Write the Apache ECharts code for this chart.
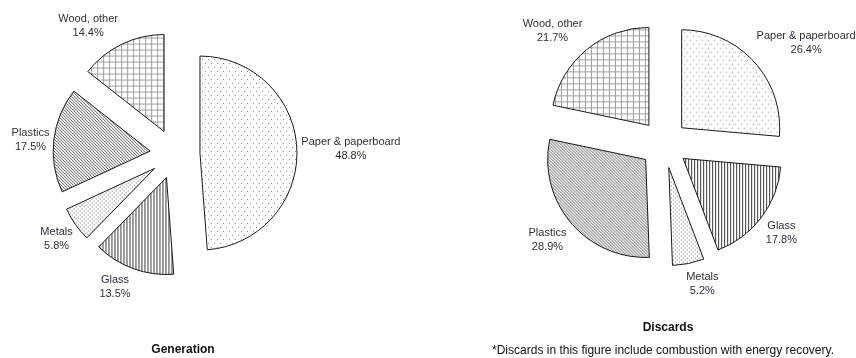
<!DOCTYPE html>
<html>
<head>
<meta charset="utf-8">
<script src="https://cdn.jsdelivr.net/npm/echarts@6/dist/echarts.min.js"></script>
<style>
  html, body { margin: 0; padding: 0; background: #fff; }
  #chart { width: 856px; height: 358px; }
</style>
</head>
<body>
<div id="chart"></div>
<script>
// categories, clockwise from 12 o'clock
var genNames = ["Paper & paperboard", "Glass", "Metals", "Plastics", "Wood, other"];
var genValues = [48.8, 13.5, 5.8, 17.5, 14.4];

var disNames = ["Paper & paperboard", "Glass", "Metals", "Plastics", "Wood, other"];
var disValues = [26.4, 17.8, 5.2, 28.9, 21.7];

var titles = ["Generation", "Discards"];
var footnote = "*Discards in this figure include combustion with energy recovery.";

// layout of the two pies (pixels) and small label nudges
var pies = [
  { names: genNames, values: genValues, center: [175, 154], radius: 97, offset: 25,
    nudge: [[1, 2], [-11, -2], [1, 0], [0, 3], [-21, 7]] },
  { names: disNames, values: disValues, center: [664, 144], radius: 98, offset: 24,
    nudge: [[16, 14], [1, 1], [10, 1], [-3, 0], [-14, 7]] }
];

var labelFont = "11px 'Liberation Sans', Arial, sans-serif";
var labelColor = "#2f2f3a";

function tile(w, h, draw) {
  var c = document.createElement("canvas");
  c.width = w; c.height = h;
  var ctx = c.getContext("2d");
  ctx.fillStyle = "#fff";
  ctx.fillRect(0, 0, w, h);
  draw(ctx);
  return { image: c, repeat: "repeat" };
}

var patterns = {
  "Paper & paperboard": tile(6, 8, function (g) {
    g.fillStyle = "#888";
    g.fillRect(0, 0, 1, 1);
    g.fillRect(3, 4, 1, 1);
  }),
  "Glass": tile(3, 1, function (g) {
    g.fillStyle = "#3a3a3a";
    g.fillRect(0, 0, 1, 1);
  }),
  "Metals": tile(4, 4, function (g) {
    g.fillStyle = "#6a6a6a";
    g.fillRect(0, 0, 1, 1);
    g.fillRect(2, 2, 1, 1);
  }),
  "Plastics": tile(3, 3, function (g) {
    g.fillStyle = "#555";
    g.fillRect(0, 0, 1, 1);
    g.fillRect(1, 1, 1, 1);
    g.fillRect(2, 2, 1, 1);
  }),
  "Wood, other": tile(6, 6, function (g) {
    g.fillStyle = "#a0a0a0";
    g.fillRect(0, 0, 6, 1);
    g.fillRect(0, 0, 1, 6);
  })
};

function buildData(names, values) {
  return names.map(function (n, i) {
    return { name: n, value: values[i], selected: true,
             itemStyle: { color: patterns[n] } };
  });
}

// label text measured the same way the canvas will draw it
var measure = document.createElement("canvas").getContext("2d");
measure.font = labelFont;

function labelText(name, v) {
  return name + "\n" + v.toFixed(1) + "%";
}

// put each label just outside its exploded slice, along the slice's mid angle
function sliceLabels(cfg) {
  var vals = cfg.values;
  var total = vals.reduce(function (a, b) { return a + b; }, 0);
  var before = 0;
  return vals.map(function (v, i) {
    var mid = (before + v / 2) / total * Math.PI * 2;
    before += v;
    var text = labelText(cfg.names[i], v);
    var w = Math.max.apply(null, text.split("\n").map(function (s) { return measure.measureText(s).width; }));
    var h = 28;
    var dx = Math.sin(mid), dy = -Math.cos(mid);
    var d = cfg.offset + cfg.radius + Math.abs(dx) * w / 2 + Math.abs(dy) * h / 2 + 3;
    return {
      type: "text",
      silent: true,
      x: cfg.center[0] + dx * d + cfg.nudge[i][0],
      y: cfg.center[1] + dy * d + cfg.nudge[i][1],
      style: { text: text, align: "center", verticalAlign: "middle",
               font: labelFont, lineHeight: 14, fill: labelColor }
    };
  });
}

function pieSeries(cfg) {
  return {
    type: "pie",
    center: cfg.center,
    radius: cfg.radius,
    startAngle: 90,
    clockwise: true,
    selectedMode: "multiple",
    selectedOffset: cfg.offset,
    data: buildData(cfg.names, cfg.values),
    itemStyle: { borderColor: "#1a1a1a", borderWidth: 1 },
    select: { itemStyle: { borderColor: "#1a1a1a", borderWidth: 1 } },
    emphasis: { disabled: true, scale: false },
    label: { show: false },
    labelLine: { show: false }
  };
}

var myChart = echarts.init(document.getElementById("chart"), null, { renderer: "canvas" });

var graphics = [
  { type: "text", x: 183, y: 350, style: { text: titles[0], align: "center", verticalAlign: "middle",
    font: "bold 12px 'Liberation Sans', Arial, sans-serif", fill: "#111" } },
  { type: "text", x: 668, y: 328, style: { text: titles[1], align: "center", verticalAlign: "middle",
    font: "bold 12px 'Liberation Sans', Arial, sans-serif", fill: "#111" } },
  { type: "text", x: 663, y: 351, style: { text: footnote, align: "center", verticalAlign: "middle",
    font: "12px 'Liberation Sans', Arial, sans-serif", fill: "#111" } }
].concat(sliceLabels(pies[0]), sliceLabels(pies[1]));

var option = {
  backgroundColor: "#fff",
  animation: false,
  series: [pieSeries(pies[0]), pieSeries(pies[1])],
  graphic: graphics
};

myChart.setOption(option);
</script>
</body>
</html>
